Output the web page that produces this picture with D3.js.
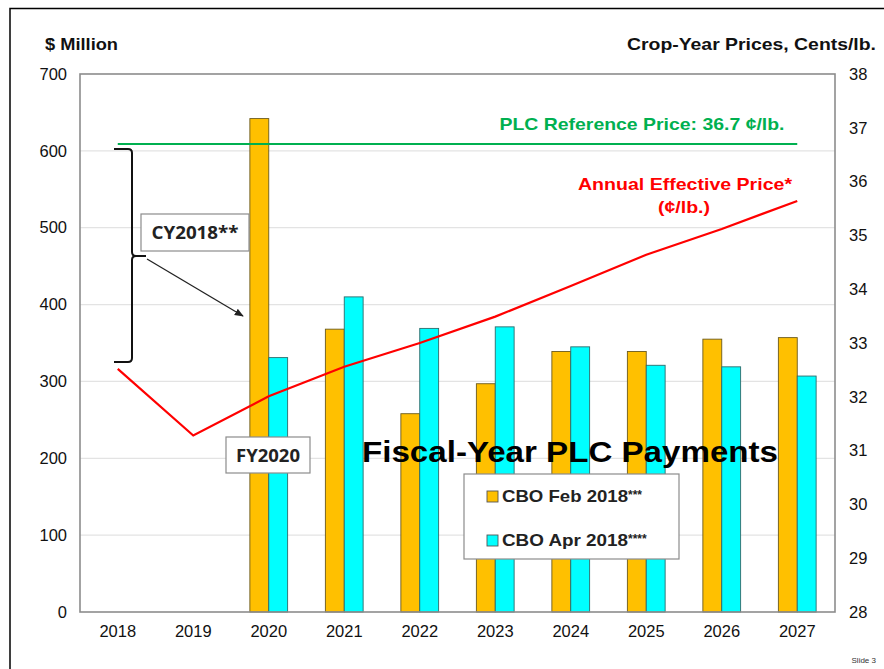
<!DOCTYPE html>
<html>
<head>
<meta charset="utf-8">
<script src="https://cdn.jsdelivr.net/npm/d3@7"></script>
<style>
  body { margin: 0; background: #fff; }
  svg { display: block; font-family: "Liberation Sans", Arial, sans-serif; }
</style>
</head>
<body>
<svg id="chart"></svg>
<script>
const width = 884;
const height = 669;
const marginTop = 74;
const marginRight = 49;
const marginBottom = 57;
const marginLeft = 80;

// data
const years = ["2018", "2019", "2020", "2021", "2022", "2023", "2024", "2025", "2026", "2027"];
const seriesNames = ["CBO Feb 2018", "CBO Apr 2018"];
const seriesStars = ["***", "****"];
const seriesColors = ["#FFC000", "#00FFFF"];
const febPayments = [null, null, 642, 368, 258, 297, 339, 339, 355, 357];
const aprPayments = [null, null, 331, 410, 369, 371, 345, 321, 319, 307];
const effectivePrice = [32.52, 31.28, 32.01, 32.56, 33.0, 33.49, 34.06, 34.64, 35.12, 35.64];
const referencePrice = 36.7;
const leftTicks = [0, 100, 200, 300, 400, 500, 600, 700];
const rightTicks = [28, 29, 30, 31, 32, 33, 34, 35, 36, 37, 38];

const svg = d3.select("#chart").attr("width", width).attr("height", height);

// slide frame
svg.append("path")
  .attr("d", "M10,669 L10,8.5 L884,8.5")
  .attr("fill", "none")
  .attr("stroke", "#000")
  .attr("stroke-width", 1.5);

const x0 = d3.scaleBand().domain(years).range([marginLeft, width - marginRight]);
const x1 = d3.scaleBand()
  .domain(seriesNames)
  .range([x0.bandwidth() * 0.25, x0.bandwidth() * 0.75]);
const yLeft = d3.scaleLinear().domain([0, 700]).range([height - marginBottom, marginTop]);
const yRight = d3.scaleLinear().domain([28, 38]).range([height - marginBottom, marginTop]);

// gridlines
svg.append("g")
  .selectAll("line")
  .data(leftTicks.filter(d => d > 0 && d < 700))
  .join("line")
  .attr("x1", marginLeft)
  .attr("x2", width - marginRight)
  .attr("y1", d => yLeft(d))
  .attr("y2", d => yLeft(d))
  .attr("stroke", "#e3e3e3")
  .attr("stroke-width", 1.2);

// bars
const rows = years.map((y, i) => ({ year: y, values: [febPayments[i], aprPayments[i]] }));
svg.append("g")
  .selectAll("g")
  .data(rows)
  .join("g")
  .attr("transform", d => `translate(${x0(d.year)},0)`)
  .selectAll("rect")
  .data(d => d.values.map((v, j) => ({ key: seriesNames[j], value: v, color: seriesColors[j] })).filter(d => d.value != null))
  .join("rect")
  .attr("x", d => x1(d.key))
  .attr("y", d => yLeft(d.value))
  .attr("width", x1.bandwidth())
  .attr("height", d => yLeft(0) - yLeft(d.value))
  .attr("fill", d => d.color)
  .attr("stroke", d => d.color === "#FFC000" ? "#6b5a1e" : "#2d6b6b")
  .attr("stroke-width", 0.9);

// plot border
svg.append("rect")
  .attr("x", marginLeft)
  .attr("y", marginTop)
  .attr("width", width - marginRight - marginLeft)
  .attr("height", height - marginBottom - marginTop)
  .attr("fill", "none")
  .attr("stroke", "#8c8c8c")
  .attr("stroke-width", 1.6);

// axes
const axL = svg.append("g")
  .attr("transform", `translate(${marginLeft},0)`)
  .call(d3.axisLeft(yLeft).tickValues(leftTicks).tickSize(0).tickPadding(13));
const axR = svg.append("g")
  .attr("transform", `translate(${width - marginRight},0)`)
  .call(d3.axisRight(yRight).tickValues(rightTicks).tickSize(0).tickPadding(14));
const axB = svg.append("g")
  .attr("transform", `translate(0,${height - marginBottom})`)
  .call(d3.axisBottom(x0).tickSize(0).tickPadding(13));
[axL, axR, axB].forEach(g => {
  g.select(".domain").remove();
  g.selectAll("text")
    .attr("font-family", "'Liberation Sans', Arial, sans-serif")
    .attr("font-size", 16.5)
    .attr("fill", "#111");
});

// reference price line
svg.append("line")
  .attr("x1", x0(years[0]) + x0.bandwidth() / 2)
  .attr("x2", x0(years[years.length - 1]) + x0.bandwidth() / 2)
  .attr("y1", yRight(referencePrice))
  .attr("y2", yRight(referencePrice))
  .attr("stroke", "#00B050")
  .attr("stroke-width", 2);

// effective price line
const line = d3.line()
  .x((d, i) => x0(years[i]) + x0.bandwidth() / 2)
  .y(d => yRight(d));
svg.append("path")
  .datum(effectivePrice)
  .attr("fill", "none")
  .attr("stroke", "#FF0000")
  .attr("stroke-width", 2.2)
  .attr("d", line);

// text helper: the slide's lettering is a bit wider than Liberation Sans
function label(x, y, txt, size, color, anchor, len) {
  const t = svg.append("text")
    .attr("x", x).attr("y", y)
    .attr("text-anchor", anchor)
    .attr("font-size", size).attr("font-weight", "bold").attr("fill", color)
    .text(txt);
  if (len) t.attr("textLength", len).attr("lengthAdjust", "spacingAndGlyphs");
  return t;
}

// axis titles
label(45, 50, "$ Million", 17, "#111", "start", 73);
label(876, 50, "Crop-Year Prices, Cents/lb.", 16.5, "#111", "end", 249);

// line labels
label(642, 130, "PLC Reference Price: 36.7 ¢/lb.", 17, "#00B050", "middle", 285);
label(685, 190, "Annual Effective Price*", 17, "#FF0000", "middle", 214);
label(684, 213, "(¢/lb.)", 16, "#FF0000", "middle", 52);

// bracket and arrow
svg.append("defs").append("marker")
  .attr("id", "arrow")
  .attr("viewBox", "0 0 10 10")
  .attr("refX", 9).attr("refY", 5)
  .attr("markerWidth", 7).attr("markerHeight", 7)
  .attr("orient", "auto")
  .append("path")
  .attr("d", "M0,1 L10,5 L0,9 Z")
  .attr("fill", "#222");

svg.append("path")
  .attr("d", "M114,149 L128,149 Q132,149 132,153 L132,252 Q132,256 136,256 L146,256 M136,256 Q132,256 132,260 L132,358 Q132,362 128,362 L114,362")
  .attr("fill", "none")
  .attr("stroke", "#111")
  .attr("stroke-width", 2);
svg.append("line")
  .attr("x1", 147).attr("y1", 259)
  .attr("x2", 243).attr("y2", 316)
  .attr("stroke", "#222")
  .attr("stroke-width", 1.3)
  .attr("marker-end", "url(#arrow)");

// annotation boxes
function labelBox(x, y, w, h, txt, len) {
  svg.append("rect")
    .attr("x", x).attr("y", y).attr("width", w).attr("height", h)
    .attr("fill", "#fff").attr("stroke", "#8c8c8c").attr("stroke-width", 1.2);
  svg.append("text")
    .attr("x", x + w / 2).attr("y", y + h / 2 + 6.5)
    .attr("text-anchor", "middle")
    .attr("font-family", "'Open Sans', 'Liberation Sans', sans-serif")
    .attr("font-size", 18).attr("font-weight", "bold").attr("fill", "#222")
    .attr("textLength", len).attr("lengthAdjust", "spacingAndGlyphs")
    .text(txt);
}
labelBox(141, 214, 108, 37, "CY2018**", 87);
labelBox(226, 437, 84, 36, "FY2020", 64);

// big title
label(570, 462, "Fiscal-Year PLC Payments", 29, "#000", "middle", 416);

// legend
const legend = svg.append("g");
legend.append("rect")
  .attr("x", 464).attr("y", 474).attr("width", 215).attr("height", 85)
  .attr("fill", "#fff").attr("stroke", "#8c8c8c").attr("stroke-width", 1.2);
seriesNames.forEach((name, i) => {
  const yy = 496 + i * 44;
  legend.append("rect")
    .attr("x", 487).attr("y", yy - 5).attr("width", 11).attr("height", 11)
    .attr("fill", seriesColors[i]).attr("stroke", "#555").attr("stroke-width", 0.9);
  const t = legend.append("text")
    .attr("x", 502).attr("y", yy + 6)
    .attr("font-size", 17).attr("font-weight", "bold").attr("fill", "#222");
  t.append("tspan").attr("textLength", 126).attr("lengthAdjust", "spacingAndGlyphs").text(name);
  t.append("tspan").attr("font-size", 12).attr("dy", -3).text(seriesStars[i]);
});

// slide number
svg.append("text")
  .attr("x", 876).attr("y", 663)
  .attr("text-anchor", "end")
  .attr("font-size", 8).attr("fill", "#333")
  .text("Slide 3");
</script>
</body>
</html>
